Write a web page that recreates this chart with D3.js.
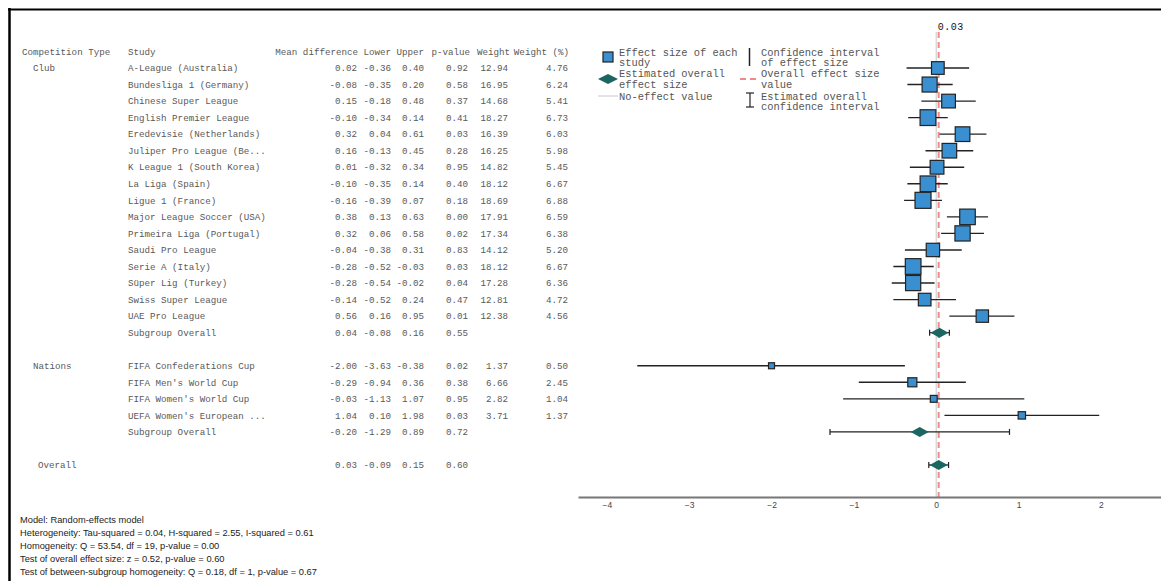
<!DOCTYPE html>
<html><head><meta charset="utf-8">
<script src="https://cdn.jsdelivr.net/npm/d3@7"></script>
<style>
body{margin:0;background:#fff;}
svg{display:block;}
.mono{font-family:"Liberation Mono","DejaVu Sans Mono",monospace;}
</style></head>
<body>
<svg id="c" width="1161" height="581"></svg>
<script>
// ---- data ----
const groups = ["Club","Club","Club","Club","Club","Club","Club","Club","Club","Club","Club","Club","Club","Club","Club","Club",
  "Nations","Nations","Nations","Nations"];
const studies = ["A-League (Australia)","Bundesliga 1 (Germany)","Chinese Super League","English Premier League",
  "Eredevisie (Netherlands)","Juliper Pro League (Be...","K League 1 (South Korea)","La Liga (Spain)","Ligue 1 (France)",
  "Major League Soccer (USA)","Primeira Liga (Portugal)","Saudi Pro League","Serie A (Italy)","Süper Lig (Turkey)",
  "Swiss Super League","UAE Pro League",
  "FIFA Confederations Cup","FIFA Men's World Cup","FIFA Women's World Cup","UEFA Women's European ..."];
const meanDiff = [0.02,-0.08,0.15,-0.10,0.32,0.16,0.01,-0.10,-0.16,0.38,0.32,-0.04,-0.28,-0.28,-0.14,0.56,
  -2.00,-0.29,-0.03,1.04];
const lower = [-0.36,-0.35,-0.18,-0.34,0.04,-0.13,-0.32,-0.35,-0.39,0.13,0.06,-0.38,-0.52,-0.54,-0.52,0.16,
  -3.63,-0.94,-1.13,0.10];
const upper = [0.40,0.20,0.48,0.14,0.61,0.45,0.34,0.14,0.07,0.63,0.58,0.31,-0.03,-0.02,0.24,0.95,
  -0.38,0.36,1.07,1.98];
const pValue = [0.92,0.58,0.37,0.41,0.03,0.28,0.95,0.40,0.18,0.00,0.02,0.83,0.03,0.04,0.47,0.01,
  0.02,0.38,0.95,0.03];
const weight = [12.94,16.95,14.68,18.27,16.39,16.25,14.82,18.12,18.69,17.91,17.34,14.12,18.12,17.28,12.81,12.38,
  1.37,6.66,2.82,3.71];
const weightPct = [4.76,6.24,5.41,6.73,6.03,5.98,5.45,6.67,6.88,6.59,6.38,5.20,6.67,6.36,4.72,4.56,
  0.50,2.45,1.04,1.37];
const subgroupNames = ["Club","Nations"];
const subMean = [0.04,-0.20];
const subLower = [-0.08,-1.29];
const subUpper = [0.16,0.89];
const subP = [0.55,0.72];
const overall = {mean:0.03, lower:-0.09, upper:0.15, p:0.60};
const xTicks = [-4,-3,-2,-1,0,1,2];
const headers = ["Competition Type","Study","Mean difference","Lower","Upper","p-value","Weight","Weight (%)"];
const footer = ["Model: Random-effects model",
  "Heterogeneity: Tau-squared = 0.04, H-squared = 2.55, I-squared = 0.61",
  "Homogeneity: Q = 53.54, df = 19, p-value = 0.00",
  "Test of overall effect size: z = 0.52, p-value = 0.60",
  "Test of between-subgroup homogeneity: Q = 0.18, df = 1, p-value = 0.67"];

// ---- build rows ----
const rows = [];
let r = 0;
subgroupNames.forEach((g, gi) => {
  let first = true;
  groups.forEach((gg, i) => {
    if (gg !== g) return;
    rows.push({row:r++, type:"study", group:first?g:"", study:studies[i], m:meanDiff[i], lo:lower[i], hi:upper[i],
      p:pValue[i], w:weight[i], wp:weightPct[i]});
    first = false;
  });
  rows.push({row:r++, type:"sub", group:"", study:"Subgroup Overall", m:subMean[gi], lo:subLower[gi], hi:subUpper[gi], p:subP[gi]});
  r++; // blank row
});
rows.push({row:r, type:"overall", group:"Overall", study:"", m:overall.mean, lo:overall.lower, hi:overall.upper, p:overall.p});

const svg = d3.select("#c");
const y = d3.scaleLinear().domain([0, 24]).range([68, 465]);
const x = d3.scaleLinear().domain([-4.35, 2.73]).range([578, 1161]);
const sz = d3.scaleLinear().domain([0.5, 6.88]).range([6, 16]);
const f2 = d3.format(".2f");
const fmt = v => f2(v).replace("−","-");

// frame
svg.append("line").attr("x1",8).attr("x2",1161).attr("y1",9.5).attr("y2",9.5).attr("stroke","#000").attr("stroke-width",2.2);
svg.append("line").attr("x1",9.5).attr("x2",9.5).attr("y1",8).attr("y2",581).attr("stroke","#000").attr("stroke-width",2.5);

// ---- table ----
const tcol = "#595959";
const T = svg.append("g").attr("class","mono").attr("font-size","9.2px").attr("fill",tcol);
const colX = [22,128,357,391,424,468,508,568];
const anchors = ["start","start","end","end","end","end","end","end"];
const hdrX = [22,128,358,391,424,470,510,569];
headers.forEach((h,i)=>{
  T.append("text").attr("x",hdrX[i]).attr("y",y(-1)).attr("dy","0.35em").attr("text-anchor",anchors[i]).text(h);
});
rows.forEach(d=>{
  const yy = y(d.row);
  const gx = d.type==="overall" ? 38 : 33;
  if (d.group) T.append("text").attr("x",gx).attr("y",yy).attr("dy","0.35em").text(d.group);
  if (d.study) T.append("text").attr("x",colX[1]).attr("y",yy).attr("dy","0.35em").text(d.study);
  const vals = [fmt(d.m), fmt(d.lo), fmt(d.hi), fmt(d.p)];
  if (d.type==="study") vals.push(fmt(d.w), fmt(d.wp));
  vals.forEach((v,k)=>{
    T.append("text").attr("x",colX[k+2]).attr("y",yy).attr("dy","0.35em").attr("text-anchor","end").text(v);
  });
});

// ---- plot ----
const P = svg.append("g");
// no-effect line
P.append("line").attr("x1",x(0)).attr("x2",x(0)).attr("y1",32).attr("y2",497).attr("stroke","#c8c8c8").attr("stroke-width",1);
// overall effect line
P.append("line").attr("x1",x(overall.mean)).attr("x2",x(overall.mean)).attr("y1",32).attr("y2",497)
  .attr("stroke","#f08a8a").attr("stroke-width",2).attr("stroke-dasharray","6,4");
svg.append("text").attr("class","mono").attr("x",x(overall.mean)-1).attr("y",26).attr("dy","0.35em")
  .attr("font-size","10px").attr("fill","#111").attr("letter-spacing","0.5px").text(fmt(overall.mean));

const studyRows = rows.filter(d=>d.type==="study");
P.selectAll("line.ci").data(studyRows).join("line").attr("class","ci")
  .attr("x1",d=>x(d.lo)).attr("x2",d=>x(d.hi)).attr("y1",d=>y(d.row)).attr("y2",d=>y(d.row))
  .attr("stroke","#222").attr("stroke-width",1.4);
P.selectAll("rect.sq").data(studyRows).join("rect").attr("class","sq")
  .attr("x",d=>x(d.m)-sz(d.wp)/2).attr("y",d=>y(d.row)-sz(d.wp)/2)
  .attr("width",d=>sz(d.wp)).attr("height",d=>sz(d.wp))
  .attr("fill","#3a8fd0").attr("stroke","#222").attr("stroke-width",1.2);

const sumRows = rows.filter(d=>d.type!=="study");
sumRows.forEach(d=>{
  const yy = y(d.row);
  P.append("line").attr("x1",x(d.lo)).attr("x2",x(d.hi)).attr("y1",yy).attr("y2",yy).attr("stroke","#222").attr("stroke-width",1.2);
  [d.lo,d.hi].forEach(v=>P.append("line").attr("x1",x(v)).attr("x2",x(v)).attr("y1",yy-3).attr("y2",yy+3).attr("stroke","#222").attr("stroke-width",1.2));
  const cx = x(d.m), hw = 9, hh = 5;
  P.append("path").attr("d",`M${cx-hw},${yy}L${cx},${yy-hh}L${cx+hw},${yy}L${cx},${yy+hh}Z`).attr("fill","#1b6661");
});

// axis
const ax = svg.append("g").attr("transform","translate(0,497)")
  .call(d3.axisBottom(x).tickValues(xTicks).tickSize(0).tickPadding(5).tickFormat(d3.format("d")));
ax.select(".domain").attr("stroke","#777").attr("stroke-width",2);
ax.selectAll("text").attr("font-family","'Liberation Sans',Arial,sans-serif").attr("font-size","8.5px").attr("fill","#444");

// ---- legend ----
const L = svg.append("g").attr("class","mono").attr("font-size","10.4px").attr("fill","#555");
L.append("rect").attr("x",603).attr("y",52).attr("width",10).attr("height",10).attr("fill","#3a8fd0").attr("stroke","#222").attr("stroke-width",1.2);
L.append("path").attr("d","M598,79L608,74L618,79L608,84Z").attr("fill","#1b6661");
L.append("line").attr("x1",598).attr("x2",618).attr("y1",96).attr("y2",96).attr("stroke","#c8c8c8").attr("stroke-width",1);
L.append("line").attr("x1",749.5).attr("x2",749.5).attr("y1",48).attr("y2",66).attr("stroke","#222").attr("stroke-width",1.5);
L.append("line").attr("x1",740).attr("x2",757).attr("y1",79).attr("y2",79).attr("stroke","#f08a8a").attr("stroke-width",2).attr("stroke-dasharray","6,4");
L.append("line").attr("x1",750).attr("x2",750).attr("y1",93).attr("y2",107).attr("stroke","#222").attr("stroke-width",1.2);
L.append("line").attr("x1",746).attr("x2",754).attr("y1",93).attr("y2",93).attr("stroke","#222").attr("stroke-width",1.2);
L.append("line").attr("x1",746).attr("x2",754).attr("y1",107).attr("y2",107).attr("stroke","#222").attr("stroke-width",1.2);
const legL = [["Effect size of each",52],["study",62],["Estimated overall",73.5],["effect size",84],["No-effect value",96]];
const legR = [["Confidence interval",52],["of effect size",62],["Overall effect size",73.5],["value",84],["Estimated overall",96],["confidence interval",106]];
legL.forEach(([t,yy])=>L.append("text").attr("x",619).attr("y",yy).attr("dy","0.35em").text(t));
legR.forEach(([t,yy])=>L.append("text").attr("x",761).attr("y",yy).attr("dy","0.35em").text(t));

// ---- footer ----
const F = svg.append("g").attr("font-family","'Liberation Sans',Arial,sans-serif").attr("font-size","9.3px").attr("fill","#222");
footer.forEach((t,i)=>F.append("text").attr("x",20).attr("y",520+i*13).attr("dy","0.35em").text(t));
</script>
</body></html>
